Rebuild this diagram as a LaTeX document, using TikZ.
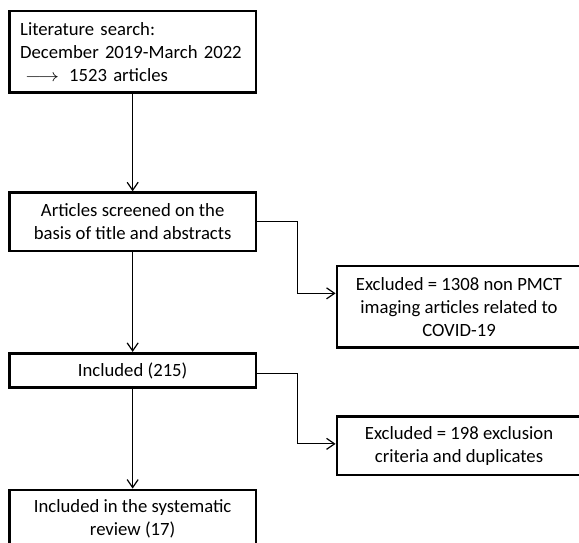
\documentclass[tikz,border=0pt]{standalone}
\usepackage{fontspec}
\setmainfont{Carlito}
\usetikzlibrary{arrows.meta,calc}
\begin{document}
\begin{tikzpicture}[x=1pt,y=-1pt,
  box/.style={draw=black,line width=2.8pt,rectangle,inner sep=0pt,align=center,font=\fontsize{18.7}{23}\selectfont},
  leftbox/.style={box,minimum width=246.7pt},
  rightbox/.style={box,minimum width=244pt},
  conn/.style={draw=black,line width=1.2pt},
  arr/.style={conn,-{Straight Barb[length=8pt,width=11pt,line width=1.2pt]}}]
\useasboundingbox (0,0) rectangle (579,543);
\fill[white] (0,0) rectangle (579,543);
\begin{scope}
\clip (0,0) rectangle (579,543);
\node[leftbox, minimum height=81.7pt, text width=225pt, align=left] (A) at (132.65,51.85)
  {Literature search:\\December 2019-March 2022\\\hspace*{5pt}\scalebox{1.22}[1]{$\longrightarrow$}\hspace{10pt}1523 articles};
\node[leftbox, minimum height=58.3pt] (B) at (132.65,221.85)
  {Articles screened on the\\basis of title and abstracts};
\node[rightbox, minimum height=81.7pt] (C) at (459,306.85)
  {Excluded = 1308 non PMCT\\imaging articles related to\\COVID-19};
\node[leftbox, minimum height=34.4pt] (D) at (132.65,370.5) {Included (215)};
\node[rightbox, minimum height=58.3pt] (E) at (459,445.85)
  {Excluded = 198 exclusion\\criteria and duplicates};
\node[leftbox, minimum height=58.3pt] (F) at (132.65,519.15)
  {Included in the systematic\\review (17)};
\coordinate (cin) at ([yshift=13.5pt]C.west);
\coordinate (dout) at ([yshift=-2.8pt]D.east);
\coordinate (ein) at ([yshift=2pt]E.west);
\draw[arr] (A.south) -- (B.north);
\draw[arr] (B.south) -- (D.north);
\draw[arr] (D.south) -- (F.north);
\draw[arr] (B.east) -- ++(40,0) |- (cin);
\draw[arr] (dout) -- ++(40,0) |- (ein);
\end{scope}
\end{tikzpicture}
\end{document}
